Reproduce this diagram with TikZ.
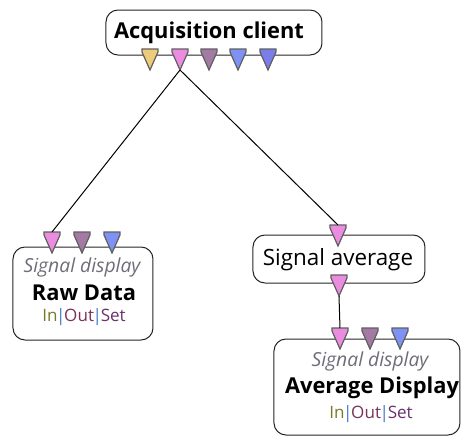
\documentclass[tikz,border=0pt]{standalone}
\usepackage{fontspec}
\setmainfont{Open Sans}

\definecolor{portyellow}{RGB}{236,204,122}
\definecolor{portpink}{RGB}{236,140,224}
\definecolor{portmauve}{RGB}{164,122,164}
\definecolor{portblue}{RGB}{126,146,244}
\definecolor{portindigo}{RGB}{122,126,234}
\definecolor{portedge}{RGB}{96,96,96}
\definecolor{kindgray}{RGB}{110,110,120}
\definecolor{inolive}{RGB}{120,122,40}
\definecolor{barblue}{RGB}{60,120,200}
\definecolor{outmaroon}{RGB}{122,50,90}
\definecolor{setpurple}{RGB}{104,50,110}

\newcommand{\inoutset}{\textcolor{inolive}{In}\kern-1pt\textcolor{barblue}{|}\kern-1pt\textcolor{outmaroon}{Out}\kern-1pt\textcolor{barblue}{|}\kern-1pt\textcolor{setpurple}{Set}}

\tikzset{every picture/.style={line width=0.75pt}}
\tikzset{
	block/.style={draw=black!85, fill=white, rounded corners=9pt, inner sep=0pt},
	kind/.style={inner sep=0.75pt, text=kindgray, font=\itshape\fontsize{14.5}{16}\selectfont},
	title/.style={inner sep=0.75pt, font=\bfseries\fontsize{16.4}{19}\selectfont},
	plain/.style={inner sep=0.75pt, font=\fontsize{16.8}{19}\selectfont},
	pins/.style={inner sep=0.75pt, font=\fontsize{12.8}{15}\selectfont},
	%pics ignore yscale=-1, so the tip is drawn at negative y
	pics/port/.style={code={
			\draw [draw=portedge, fill=#1, line width=0.9pt] (-8,0) -- (8,0) -- (8,-3) -- (0,-21) -- (-8,-3) -- cycle ;
			\coordinate (-top) at (0,0) ;
			\coordinate (-tip) at (0,-21) ;
	}}
}

\begin{document}
\begin{tikzpicture}[x=0.75pt,y=0.75pt,yscale=-1,xscale=1]
	\useasboundingbox (0,0) rectangle (462,436);
	
	%Rounded Rect [id:acq] 
	\node (acq) [block, minimum width=216*0.75pt, minimum height=45*0.75pt] at (214,32.5) {};
	%Rounded Rect [id:raw] 
	\node (raw) [block, minimum width=140*0.75pt, minimum height=93*0.75pt] at (83,293.5) {};
	%Rounded Rect [id:sigavg] 
	\node (sigavg) [block, minimum width=172*0.75pt, minimum height=48*0.75pt] at (339,259) {};
	%Rounded Rect [id:avgdisp] 
	\node (avgdisp) [block, minimum width=186*0.75pt, minimum height=96*0.75pt] at (367,387) {};
	
	%Ports
	\pic (acqA) at (150,49) {port=portyellow};
	\pic (acqB) at (180,49) {port=portpink};
	\pic (acqC) at (209,49) {port=portmauve};
	\pic (acqD) at (238,49) {port=portblue};
	\pic (acqE) at (268,49) {port=portindigo};
	
	\pic (rawA) at (52,232) {port=portpink};
	\pic (rawB) at (82,232) {port=portmauve};
	\pic (rawC) at (112,232) {port=portblue};
	
	\pic (sigavgIn) at (338,225) {port=portpink};
	\pic (sigavgOut) at (339,275) {port=portpink};
	
	\pic (avgdispA) at (340,328) {port=portpink};
	\pic (avgdispB) at (370,328) {port=portmauve};
	\pic (avgdispC) at (400,328) {port=portblue};
	
	%Straight Lines [id:acq-raw] 
	\draw    (acqB-tip) -- (rawA-top) ;
	%Straight Lines [id:acq-sigavg] 
	\draw    (acqB-tip) -- (sigavgIn-top) ;
	%Straight Lines [id:sigavg-avgdisp] 
	\draw    (sigavgOut-tip) -- (avgdispA-top) ;
	
	% Text Node
	\node (acqname) [title] at (209,33) {Acquisition client};
	% Text Node
	\node (rawkind) [kind] at (82,267) {Signal display};
	% Text Node
	\node (rawname) [title] at (84,293) {Raw Data};
	% Text Node
	\node (rawpins) [pins] at (84,317) {\inoutset};
	% Text Node
	\node (sigavgname) [plain] at (338,260) {Signal average};
	% Text Node
	\node (avgdispkind) [kind] at (370,361) {Signal display};
	% Text Node
	\node (avgdispname) [title] at (372,388) {Average Display};
	% Text Node
	\node (avgdisppins) [pins] at (371,414) {\inoutset};
	
\end{tikzpicture}
\end{document}
